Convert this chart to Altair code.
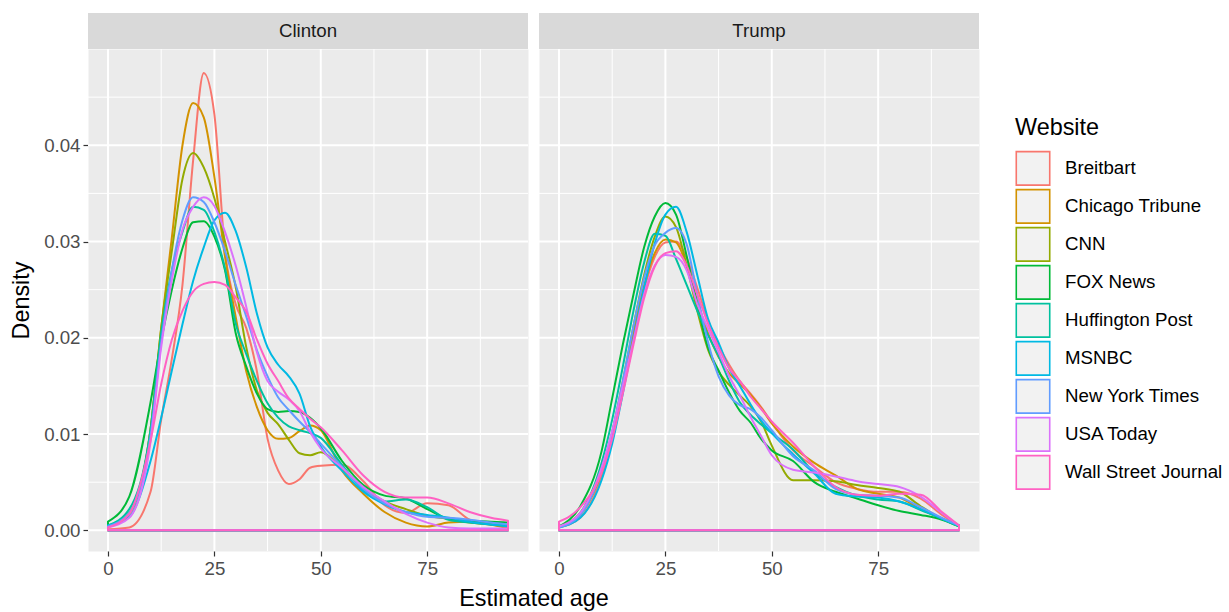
import altair as alt
import pandas as pd

AGES = [0, 5, 10, 12.5, 15, 17.5, 20, 22.5, 25, 27.5, 30, 32.5, 35, 37.5, 40,
        42.5, 45, 47.5, 50, 55, 60, 65, 70, 75, 80, 85, 90, 94]

WEBSITES = ["Breitbart", "Chicago Tribune", "CNN", "FOX News", "Huffington Post",
            "MSNBC", "New York Times", "USA Today", "Wall Street Journal"]
COLORS = ["#F8766D", "#D39200", "#93AA00", "#00BA38", "#00C19F",
          "#00B9E3", "#619CFF", "#DB72FB", "#FF61C3"]
CANDIDATES = ["Clinton", "Trump"]

# ---- Clinton densities ----
clinton_breitbart = [0.0001, 0.0003, 0.004, 0.0115, 0.0178, 0.0255, 0.0384, 0.0475, 0.0432, 0.029,
                     0.0235, 0.021, 0.0165, 0.0095, 0.0062, 0.0048, 0.0053, 0.0065, 0.0067,
                     0.0068, 0.0051, 0.0026, 0.0018, 0.0028, 0.0026, 0.0011, 0.0006, 0.0004]
clinton_chicago = [0.0004, 0.0017, 0.0105, 0.021, 0.0304, 0.040, 0.0444, 0.0429, 0.0367, 0.0284,
                   0.0222, 0.0165, 0.0128, 0.0104, 0.0095, 0.0096, 0.0103, 0.0109, 0.0104,
                   0.0062, 0.0038, 0.0019, 0.0008, 0.0004, 0.0008, 0.0009, 0.0006, 0.0002]
clinton_cnn = [0.0004, 0.0018, 0.0105, 0.021, 0.029, 0.0365, 0.0392, 0.0377, 0.0345, 0.030,
               0.0253, 0.019, 0.0145, 0.0122, 0.011, 0.0094, 0.008, 0.0078, 0.0081,
               0.0064, 0.0045, 0.003, 0.0022, 0.0015, 0.0012, 0.0008, 0.0006, 0.0004]
clinton_fox = [0.0009, 0.0035, 0.0133, 0.0197, 0.025, 0.0293, 0.032, 0.0321, 0.0305, 0.027,
               0.0205, 0.017, 0.0142, 0.0126, 0.0123, 0.0124, 0.0123, 0.0117, 0.0106,
               0.0072, 0.0047, 0.0036, 0.0033, 0.0022, 0.0012, 0.001, 0.0009, 0.0008]
clinton_huff = [0.0005, 0.0022, 0.0105, 0.0205, 0.027, 0.031, 0.0336, 0.0333, 0.031, 0.0272,
                0.0215, 0.0183, 0.0155, 0.0132, 0.0117, 0.0108, 0.0104, 0.0101, 0.0096,
                0.0068, 0.0042, 0.003, 0.0032, 0.0024, 0.0011, 0.0008, 0.0006, 0.0005]
clinton_msnbc = [0.0005, 0.0014, 0.0072, 0.0117, 0.0166, 0.0214, 0.0259, 0.0294, 0.0322, 0.033,
                 0.0311, 0.0273, 0.0225, 0.019, 0.0172, 0.016, 0.0142, 0.0108, 0.0087,
                 0.0062, 0.004, 0.0027, 0.0019, 0.0016, 0.0013, 0.0009, 0.0006, 0.0004]
clinton_nyt = [0.0004, 0.0018, 0.0098, 0.0195, 0.027, 0.0322, 0.0346, 0.0341, 0.032, 0.029,
               0.0255, 0.0222, 0.0187, 0.016, 0.0138, 0.0125, 0.0113, 0.0102, 0.009,
               0.0066, 0.0043, 0.0028, 0.0019, 0.0014, 0.0013, 0.0011, 0.0008, 0.0006]
clinton_usa = [0.0003, 0.0013, 0.0092, 0.019, 0.026, 0.0312, 0.0336, 0.0346, 0.0337, 0.031,
               0.0275, 0.0232, 0.0185, 0.0155, 0.0144, 0.0136, 0.0124, 0.0102, 0.0085,
               0.0065, 0.0045, 0.003, 0.0017, 0.0008, 0.0003, 0.0002, 0.0002, 0.0002]
clinton_wsj = [0.0003, 0.0017, 0.0093, 0.0152, 0.0198, 0.0228, 0.0248, 0.0256, 0.0258, 0.0255,
               0.0242, 0.0227, 0.0198, 0.0173, 0.0155, 0.0137, 0.0126, 0.0116, 0.0107,
               0.0083, 0.0057, 0.004, 0.0034, 0.0034, 0.0028, 0.0019, 0.0013, 0.001]

# ---- Trump densities ----
trump_breitbart = [0.0003, 0.0013, 0.0055, 0.0093, 0.0145, 0.02, 0.025, 0.0284, 0.0299, 0.030,
                   0.0283, 0.0252, 0.0218, 0.0192, 0.0172, 0.0155, 0.0142, 0.0128, 0.0112,
                   0.0083, 0.0066, 0.005, 0.0043, 0.004, 0.004, 0.0033, 0.0016, 0.0005]
trump_chicago = [0.0004, 0.0016, 0.006, 0.0098, 0.015, 0.0205, 0.0254, 0.0288, 0.0302, 0.0299,
                 0.0275, 0.0238, 0.0205, 0.018, 0.0163, 0.0152, 0.0141, 0.0127, 0.0111,
                 0.0087, 0.007, 0.0057, 0.0043, 0.0038, 0.0034, 0.0022, 0.0012, 0.0005]
trump_cnn = [0.0004, 0.0018, 0.0062, 0.0102, 0.0155, 0.0212, 0.0265, 0.0305, 0.0326, 0.0315,
             0.0275, 0.0228, 0.0188, 0.0165, 0.0151, 0.014, 0.0129, 0.0113, 0.0088,
             0.0052, 0.0052, 0.0051, 0.0047, 0.0044, 0.004, 0.0025, 0.0012, 0.0005]
trump_fox = [0.0004, 0.0025, 0.0082, 0.0137, 0.0193, 0.0245, 0.0294, 0.0326, 0.034, 0.0328,
             0.0285, 0.0235, 0.019, 0.0166, 0.0143, 0.0124, 0.0112, 0.0095, 0.0083,
             0.0072, 0.005, 0.004, 0.0033, 0.0026, 0.002, 0.0016, 0.0011, 0.0004]
trump_huff = [0.0003, 0.0018, 0.007, 0.0115, 0.017, 0.0228, 0.0278, 0.0308, 0.0306, 0.0282,
              0.0255, 0.0228, 0.0203, 0.0181, 0.0155, 0.0133, 0.012, 0.011, 0.0101,
              0.0084, 0.006, 0.0045, 0.0036, 0.0032, 0.003, 0.0021, 0.0012, 0.0004]
trump_msnbc = [0.0003, 0.0013, 0.0052, 0.009, 0.0142, 0.0198, 0.0252, 0.0298, 0.0328, 0.0336,
               0.031, 0.0265, 0.022, 0.0195, 0.0168, 0.015, 0.0131, 0.0114, 0.0101,
               0.0079, 0.0059, 0.0038, 0.0035, 0.0034, 0.003, 0.0022, 0.0012, 0.0005]
trump_nyt = [0.0003, 0.0016, 0.0062, 0.0102, 0.0155, 0.0212, 0.0262, 0.0296, 0.0309, 0.0314,
             0.0297, 0.0245, 0.0196, 0.016, 0.014, 0.013, 0.0126, 0.0117, 0.0104,
             0.0077, 0.0062, 0.0043, 0.0037, 0.0036, 0.0034, 0.0024, 0.0013, 0.0005]
trump_usa = [0.0004, 0.0018, 0.0065, 0.0103, 0.015, 0.0197, 0.0245, 0.0275, 0.0286, 0.0284,
             0.027, 0.0235, 0.021, 0.0185, 0.016, 0.014, 0.0118, 0.0098, 0.0078,
             0.0063, 0.006, 0.0056, 0.0051, 0.0048, 0.0045, 0.0035, 0.0018, 0.0005]
trump_wsj = [0.0009, 0.0024, 0.006, 0.0095, 0.0142, 0.0193, 0.0241, 0.0274, 0.0288, 0.029,
             0.0275, 0.0245, 0.0215, 0.019, 0.0168, 0.0155, 0.0139, 0.0126, 0.0113,
             0.0091, 0.0066, 0.0045, 0.0037, 0.0036, 0.0038, 0.0037, 0.0019, 0.0005]

SERIES = {
    "Clinton": [clinton_breitbart, clinton_chicago, clinton_cnn, clinton_fox, clinton_huff,
                clinton_msnbc, clinton_nyt, clinton_usa, clinton_wsj],
    "Trump": [trump_breitbart, trump_chicago, trump_cnn, trump_fox, trump_huff,
              trump_msnbc, trump_nyt, trump_usa, trump_wsj],
}

MAJOR_X = [0, 25, 50, 75]
MINOR_X = [12.5, 37.5, 62.5, 87.5]
MAJOR_Y = [0.0, 0.01, 0.02, 0.03, 0.04]
MINOR_Y = [0.005, 0.015, 0.025, 0.035, 0.045]

rows = []
for cand in CANDIDATES:
    for site, vals in zip(WEBSITES, SERIES[cand]):
        for a, v in zip(AGES, vals):
            rows.append({"Candidate": cand, "Website": site, "Age": a, "Density": v})
df = pd.DataFrame(rows)

FONT = "Liberation Sans"
PW, PH = 440, 502
x_scale = alt.Scale(domain=[-4.7, 98.7], nice=False, zero=False)
y_scale = alt.Scale(domain=[-0.00215, 0.05], nice=False, zero=False)


def panel(cand, show_y):
    d = df[df.Candidate == cand]
    if show_y:
        x_axis = alt.Axis(values=MAJOR_X, titleX=445.5, titleAlign="center", titlePadding=10)
        x_title = "Estimated age"
        y_axis = alt.Axis(values=MAJOR_Y, format=".2f")
        y_title = "Density"
    else:
        x_axis = alt.Axis(values=MAJOR_X)
        x_title = None
        y_axis = None
        y_title = None

    def xenc(field):
        return alt.X(field, scale=x_scale, title=x_title, axis=x_axis)

    def yenc(field):
        return alt.Y(field, scale=y_scale, title=y_title, axis=y_axis, stack=False)

    minor_x = alt.Chart(pd.DataFrame({"v": MINOR_X})).mark_rule(color="white", strokeWidth=1).encode(
        x=xenc("v:Q"))
    minor_y = alt.Chart(pd.DataFrame({"v": MINOR_Y})).mark_rule(color="white", strokeWidth=1).encode(
        y=yenc("v:Q"))
    major_x = alt.Chart(pd.DataFrame({"v": MAJOR_X})).mark_rule(color="white", strokeWidth=2).encode(
        x=xenc("v:Q"))
    major_y = alt.Chart(pd.DataFrame({"v": MAJOR_Y})).mark_rule(color="white", strokeWidth=2).encode(
        y=yenc("v:Q"))

    area = alt.Chart(d).mark_area(interpolate="monotone", fill="#F2F2F2", fillOpacity=0,
                                  strokeWidth=2, strokeJoin="round").encode(
        x=xenc("Age:Q"),
        y=yenc("Density:Q"),
        stroke=alt.Stroke("Website:N", scale=alt.Scale(domain=WEBSITES, range=COLORS),
                          legend=alt.Legend(title="Website", orient="none", legendX=927,
                                            legendY=68, symbolType="square", symbolSize=1120,
                                            symbolStrokeWidth=1.6, symbolFillColor="#F2F2F2",
                                            symbolOpacity=1, rowPadding=-3.4, labelOffset=14,
                                            titlePadding=10)),
        detail="Website:N",
    )

    label_df = pd.DataFrame({"label": [cand]})
    strip = alt.Chart(label_df).mark_rect(color="#D9D9D9").encode(
        x=alt.value(0), x2=alt.value(PW), y=alt.value(-36), y2=alt.value(0))
    strip_text = alt.Chart(label_df).mark_text(font=FONT, fontSize=18.7, color="#1A1A1A",
                                               baseline="middle").encode(
        x=alt.value(PW / 2), y=alt.value(-18), text="label:N")

    return alt.layer(minor_x, minor_y, major_x, major_y, area, strip, strip_text).properties(
        width=PW, height=PH)


chart = alt.hconcat(panel("Clinton", True), panel("Trump", False), spacing=11,
                    bounds="flush").resolve_scale(
    stroke="shared"
).properties(
    padding={"left": 9, "top": 12, "right": 0, "bottom": 0},
).configure_view(
    fill="#EBEBEB", stroke="transparent"
).configure_axis(
    labelFont=FONT, labelFontSize=18.7, labelColor="#4D4D4D", tickColor="#333333",
    tickSize=5, tickWidth=1.2, domain=False, grid=False, labelPadding=3,
    titleFont=FONT, titleFontSize=23.4, titleFontWeight="normal", titleColor="black",
    titlePadding=10,
).configure_legend(
    titleFont=FONT, titleFontSize=23.4, titleFontWeight="normal", titleColor="black",
    labelFont=FONT, labelFontSize=18.7, labelColor="black",
)

chart.save("out.html", embed_options={"renderer": "svg", "actions": False})
